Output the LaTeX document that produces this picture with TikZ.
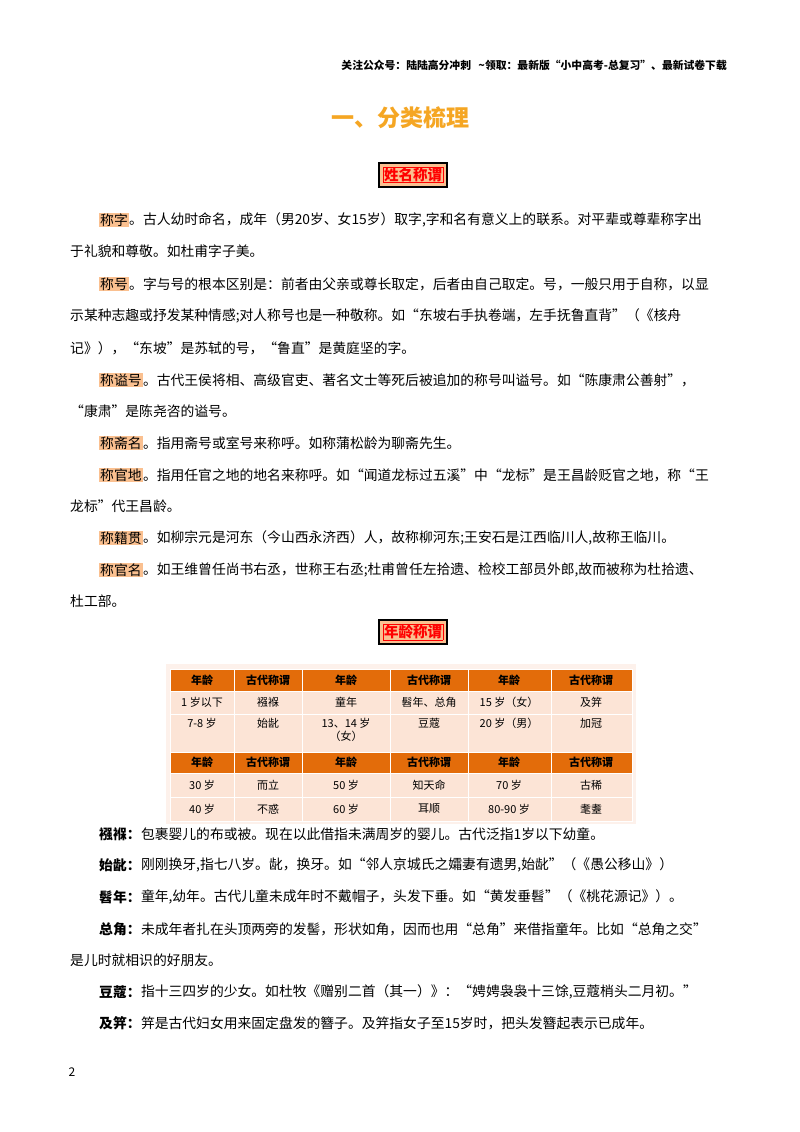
\documentclass[tikz,border=0pt]{standalone}
\usepackage{fontspec}
\setmainfont{Noto Sans CJK SC}
\definecolor{hl}{HTML}{FAC090}
\definecolor{hdr}{HTML}{E36C0A}
\definecolor{cellc}{HTML}{FCE4D6}
\definecolor{ttl}{HTML}{F5A623}
\begin{document}
\begin{tikzpicture}[x=1pt,y=-1pt,
  txt/.style={anchor=west,inner sep=0pt,font=\fontsize{13.8}{14}\selectfont},
  term/.style={anchor=west,inner sep=1pt,fill=hl,font=\fontsize{13.8}{14}\selectfont},
  bterm/.style={anchor=west,inner sep=0pt,font=\fontsize{13.8}{14}\selectfont\bfseries},
  sec/.style={draw=black,line width=1.5pt,fill=hl,inner sep=4pt,text=red,font=\fontsize{14.5}{15}\selectfont\bfseries},
  hc/.style={fill=hdr,draw=white,line width=1pt},
  bc/.style={fill=cellc,draw=white,line width=1pt},
  ct/.style={inner sep=0pt,font=\fontsize{11}{13}\selectfont,align=center},
  ht/.style={inner sep=0pt,font=\fontsize{11}{13}\selectfont\bfseries}]
\useasboundingbox (0,0) rectangle (800,1132);
\fill[white] (0,0) rectangle (800,1132);
\node[anchor=east,inner sep=0pt,font=\fontsize{10.8}{12}\selectfont\bfseries] (hd) at (727,65) {关注公众号：陆陆高分冲刺\ \ \ \textasciitilde 领取：最新版“小中高考-总复习”、最新试卷下载};
\node[text=ttl,font=\fontsize{23}{26}\selectfont\bfseries,inner sep=0pt] (title) at (400,118) {一、分类梳理};
\node[sec] (s1) at (413,175) {\setlength{\fboxsep}{0.5pt}\setlength{\fboxrule}{0.4pt}\fbox{姓名称谓}};
% paragraphs
\node[term] (a1) at (99,220) {称字};
\node[txt] at (a1.east) {。古人幼时命名，成年（男20岁、女15岁）取字,字和名有意义上的联系。对平辈或尊辈称字出};
\node[txt] (l2) at (70,251) {于礼貌和尊敬。如杜甫字子美。};
\node[term] (a2) at (99,284) {称号};
\node[txt] at (a2.east) {。字与号的根本区别是：前者由父亲或尊长取定，后者由自己取定。号，一般只用于自称，以显};
\node[txt] (l3) at (70,316) {示某种志趣或抒发某种情感;对人称号也是一种敬称。如“东坡右手执卷端，左手抚鲁直背”（《核舟};
\node[txt] (l4) at (70,348) {记》），“东坡”是苏轼的号，“鲁直”是黄庭坚的字。};
\node[term] (a3) at (99,380) {称谥号};
\node[txt] at (a3.east) {。古代王侯将相、高级官吏、著名文士等死后被追加的称号叫谥号。如“陈康肃公善射”，};
\node[txt] (l5) at (70,411) {“康肃”是陈尧咨的谥号。};
\node[term] (a4) at (99,443) {称斋名};
\node[txt] at (a4.east) {。指用斋号或室号来称呼。如称蒲松龄为聊斋先生。};
\node[term] (a5) at (99,475) {称官地};
\node[txt] at (a5.east) {。指用任官之地的地名来称呼。如“闻道龙标过五溪”中“龙标”是王昌龄贬官之地，称“王};
\node[txt] (l6) at (70,506) {龙标”代王昌龄。};
\node[term] (a6) at (99,538) {称籍贯};
\node[txt] at (a6.east) {。如柳宗元是河东（今山西永济西）人，故称柳河东;王安石是江西临川人,故称王临川。};
\node[term] (a7) at (99,570) {称官名};
\node[txt] at (a7.east) {。如王维曾任尚书右丞，世称王右丞;杜甫曾任左拾遗、检校工部员外郎,故而被称为杜拾遗、};
\node[txt] (l7) at (70,601) {杜工部。};
\node[sec] (s2) at (413,632) {\setlength{\fboxsep}{0.5pt}\setlength{\fboxrule}{0.4pt}\fbox{年龄称谓}};
% table
\fill[cellc!50] (166,664) rectangle (636,824);
\foreach \xa/\xb [count=\i] in {170/234,234/302,302/390,390/468,468/551,551/632}{
  \path[hc] (\xa,669) rectangle (\xb,691);
  \path[bc] (\xa,691) rectangle (\xb,714);
  \path[bc] (\xa,714) rectangle (\xb,752);
  \path[hc] (\xa,752) rectangle (\xb,773);
  \path[bc] (\xa,773) rectangle (\xb,797);
  \path[bc] (\xa,797) rectangle (\xb,821);
}
\foreach \x/\t in {202/年龄,268/古代称谓,346/年龄,429/古代称谓,509/年龄,591/古代称谓}{
  \node[ht] at (\x,680) {\t};
  \node[ht] at (\x,762) {\t};
}
\foreach \x/\a/\b/\c/\d in {202/1 岁以下/7-8 岁/30 岁/40 岁,268/襁褓/始龀/而立/不惑,346/童年/{13、14 岁\\（女）}/50 岁/60 岁,429/髫年、总角/豆蔻/知天命/耳顺,509/15 岁（女）/20 岁（男）/70 岁/80-90 岁,591/及笄/加冠/古稀/耄耋}{
  \node[ct] at (\x,702) {\a};
  \node[ct,anchor=north] at (\x,718) {\b};
  \node[ct] at (\x,785) {\c};
  \node[ct] at (\x,809) {\d};
}
% lower notes
\node[bterm] (b1) at (99,834) {襁褓：};
\node[txt] at (b1.east) {包裹婴儿的布或被。现在以此借指未满周岁的婴儿。古代泛指1岁以下幼童。};
\node[bterm] (b2) at (99,865) {始龀：};
\node[txt] at (b2.east) {刚刚换牙,指七八岁。龀，换牙。如“邻人京城氏之孀妻有遗男,始龀”（《愚公移山》）};
\node[bterm] (b3) at (99,897) {髫年：};
\node[txt] at (b3.east) {童年,幼年。古代儿童未成年时不戴帽子，头发下垂。如“黄发垂髫”（《桃花源记》）。};
\node[bterm] (b4) at (99,929) {总角：};
\node[txt] at (b4.east) {未成年者扎在头顶两旁的发髻，形状如角，因而也用“总角”来借指童年。比如“总角之交”};
\node[txt] (l8) at (70,960) {是儿时就相识的好朋友。};
\node[bterm] (b5) at (99,992) {豆蔻：};
\node[txt] at (b5.east) {指十三四岁的少女。如杜牧《赠别二首（其一）》：“娉娉袅袅十三馀,豆蔻梢头二月初。”};
\node[bterm] (b6) at (99,1023) {及笄：};
\node[txt] at (b6.east) {笄是古代妇女用来固定盘发的簪子。及笄指女子至15岁时，把头发簪起表示已成年。};
\node[inner sep=0pt,font=\fontsize{12}{14}\selectfont] (pg) at (72,1072) {2};
\end{tikzpicture}
\end{document}
